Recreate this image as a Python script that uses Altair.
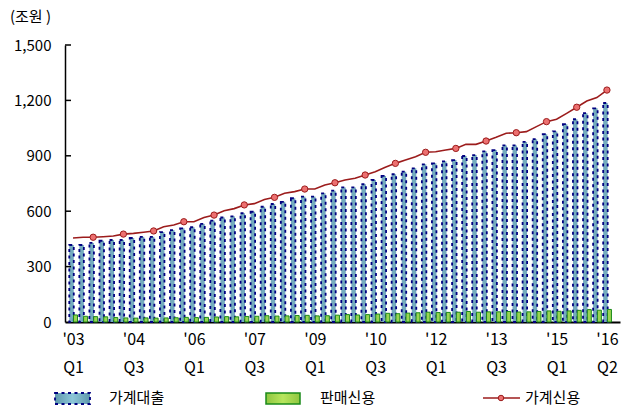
import json
import altair as alt
import pandas as pd

FONT = "Noto Sans CJK KR"

# 가계대출 (household loans), quarterly 2003Q1 - 2016Q2, trillion won
loans = [417, 417, 428, 440, 444, 444, 455, 461, 461, 487, 498, 507, 513, 531,
         549, 566, 572, 589, 597, 624, 639, 651, 670, 679, 679, 697, 711, 729,
         729, 746, 769, 791, 800, 814, 832, 854, 859, 870, 877, 899, 904, 924,
         931, 956, 956, 975, 990, 1017, 1032, 1071, 1098, 1131, 1157, 1186]
# 판매신용 (sales credit)
sales = [38, 31, 29, 28, 24, 22, 21, 22, 21, 22, 23, 25, 24, 25,
         27, 29, 28, 30, 31, 34, 32, 33, 35, 36, 33, 34, 37, 40,
         38, 40, 43, 47, 45, 48, 50, 53, 51, 52, 53, 57, 53, 55,
         55, 57, 54, 55, 57, 60, 58, 60, 63, 67, 64, 68]
# 가계신용 (household credit)
credit = [455, 459, 459, 462, 466, 476, 480, 486, 493, 516, 525, 543, 543, 566,
          579, 603, 614, 634, 641, 663, 675, 697, 706, 720, 720, 742, 754, 769,
          778, 796, 814, 838, 859, 877, 895, 919, 922, 931, 940, 962, 962, 980,
          1000, 1022, 1025, 1031, 1058, 1085, 1098, 1130, 1163, 1197, 1215, 1256]

tick_index = [0, 6, 12, 18, 24, 30, 36, 42, 48, 53]
tick_year = ["'03", "'04", "'06", "'07", "'09", "'10", "'12", "'13", "'15", "'16"]
tick_quarter = ["Q1", "Q3", "Q1", "Q3", "Q1", "Q3", "Q1", "Q3", "Q1", "Q2"]
y_ticks = [0, 300, 600, 900, 1200, 1500]

n = len(loans)
df = pd.DataFrame({"idx": list(range(n)), "loans": loans, "sales": sales, "credit": credit})

labs = [""] * n
for i, yy, qq in zip(tick_index, tick_year, tick_quarter):
    labs[i] = [yy, qq]
label_expr = json.dumps(labs, ensure_ascii=False) + "[datum.value]"

x_enc = alt.X(
    "idx:Q",
    scale=alt.Scale(domain=[-0.3, 53.8], nice=False, zero=False),
    axis=alt.Axis(values=tick_index, labelExpr=label_expr, title=None, ticks=False,
                  labelPadding=9, labelLineHeight=28, labelFontSize=16, labelColor="black",
                  labelFont=FONT, domainColor="black", domainWidth=2, grid=False,
                  labelFlush=False, labelOverlap=False),
)
y_scale = alt.Scale(domain=[0, 1500], nice=False)
y_axis = alt.Axis(values=y_ticks, format=",d", title=None, ticks=False, labelPadding=14,
                  labelFontSize=15, labelColor="black", labelFont=FONT,
                  domainColor="black", domainWidth=1.5, grid=False)

def Y(field):
    return alt.Y(field, scale=y_scale, axis=y_axis)

base = alt.Chart(df)

blue = base.mark_bar(size=4.5, xOffset=-1.5, fill="#74abbf", stroke="#000080",
                     strokeWidth=1.8, strokeDash=[3, 3.5]).encode(x=x_enc, y=Y("loans:Q"))
green = base.mark_bar(size=4, xOffset=2.5, fill="#9ad452", stroke="#1a8a1a",
                      strokeWidth=1).encode(x=x_enc, y=Y("sales:Q"))
line = base.mark_line(color="#9c1c1c", strokeWidth=1.6).encode(x=x_enc, y=Y("credit:Q"))
pts = base.mark_point(shape="circle", filled=True, size=40, fill="#ec7070", stroke="#9c1c1c",
                      strokeWidth=1, opacity=1).encode(x=x_enc, y=Y("credit:Q")).transform_filter(
    "datum.idx % 3 == 2")

ticks = alt.Chart(pd.DataFrame({"v": y_ticks[1:]})).mark_rule(color="black", strokeWidth=1.5).encode(
    y=Y("v:Q"), x=alt.value(0), x2=alt.value(6))

one = alt.Data(values=[{}])
unit = alt.Chart(one).mark_text(text="(조원 )", align="left", baseline="middle", fontSize=15,
                                font=FONT, color="black").encode(x=alt.value(-55), y=alt.value(-28))

LY = 353
blue_grad = alt.Gradient(gradient="linear", x1=0, x2=1, y1=0, y2=0,
                         stops=[alt.GradientStop(offset=0, color="#5f98ad"),
                                alt.GradientStop(offset=0.5, color="#8cc6d8"),
                                alt.GradientStop(offset=1, color="#5f98ad")])
green_grad = alt.Gradient(gradient="linear", x1=0, x2=1, y1=0, y2=0,
                          stops=[alt.GradientStop(offset=0, color="#8fc640"),
                                 alt.GradientStop(offset=0.5, color="#b8e65e"),
                                 alt.GradientStop(offset=1, color="#8fc640")])
leg_blue = alt.Chart(one).mark_rect(fill=blue_grad, stroke="#000080", strokeWidth=1.8,
                                    strokeDash=[3, 3.5]).encode(
    x=alt.value(-10), x2=alt.value(25), y=alt.value(LY - 5), y2=alt.value(LY + 6))
leg_green = alt.Chart(one).mark_rect(fill=green_grad, stroke="#1a8a1a", strokeWidth=1.5).encode(
    x=alt.value(201), x2=alt.value(235), y=alt.value(LY - 5), y2=alt.value(LY + 6))
leg_line = alt.Chart(one).mark_rule(color="#9c1c1c", strokeWidth=1.6).encode(
    x=alt.value(418), x2=alt.value(455), y=alt.value(LY))
leg_pt = alt.Chart(one).mark_point(shape="circle", filled=True, size=30, fill="#ec7070",
                                   stroke="#9c1c1c", strokeWidth=1, opacity=1).encode(
    x=alt.value(436), y=alt.value(LY))
def leg_text(t, x):
    return alt.Chart(one).mark_text(text=t, align="left", baseline="middle", fontSize=15,
                                    font=FONT, color="black").encode(x=alt.value(x), y=alt.value(LY))

chart = alt.layer(
    blue, green, line, pts, ticks, unit,
    leg_blue, leg_green, leg_line, leg_pt,
    leg_text("가계대출", 44), leg_text("판매신용", 255), leg_text("가계신용", 460),
).properties(
    width=555, height=277,
    autosize=alt.AutoSizeParams(type="none"),
    padding={"left": 65, "top": 45, "right": 6, "bottom": 91},
    background="white",
).configure_view(strokeWidth=0).configure_text(font=FONT)

chart.save("out.html", embed_options={"renderer": "svg", "actions": False})
